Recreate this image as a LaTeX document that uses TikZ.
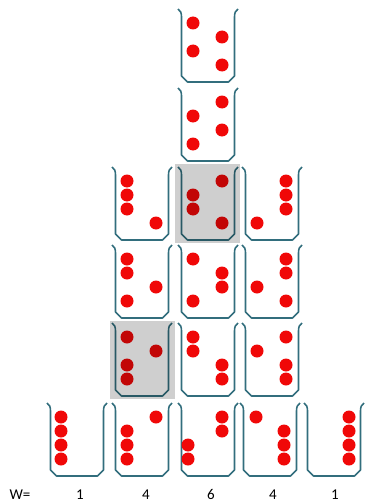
\documentclass[tikz,border=0pt]{standalone}
\usepackage{fontspec}
\setmainfont{Carlito}
\definecolor{bkc}{RGB}{50,110,125}
\definecolor{dotc}{RGB}{240,8,8}
\tikzset{
  bkline/.style={draw=bkc,line width=1.6pt,line join=round},
  dotfill/.style={fill=dotc},
  shade box/.style={fill=black,fill opacity=0.19,draw=none},
  wlabel/.style={anchor=base,font=\fontsize{15}{17}\selectfont,inner sep=0pt}
}
\newcommand\bk[3]{%
 \draw[bkline] (#1,#2) .. controls (#1+2.5,#2+1.5) and (#1+3.5,#2+4) .. (#1+3.5,#2+8) -- (#1+3.5,#2+67) -- (#1+9.5,#2+73) -- (#1+50.5,#2+73) -- (#1+56.5,#2+67) -- (#1+56.5,#2+8) .. controls (#1+56.5,#2+4) and (#1+57.5,#2+1.5) .. (#1+60,#2);
 \foreach \px/\py in {#3} \fill[dotfill] (#1+\px,#2+14*\py) circle (6.5);
}
\begin{document}
\begin{tikzpicture}[x=1pt,y=-1pt]
\useasboundingbox (0,0) rectangle (364,503);
% row 1
\bk{178}{9}{15/1,44/2,15/3,44/4}
% row 2
\bk{178}{88}{44/1,15/2,44/3,15/4}
% row 3
\bk{112}{167}{15/1,15/2,15/3,44/4}
\bk{178}{167}{44/1,15/2,15/3,44/4}
\bk{242}{167}{44/1,44/2,44/3,15/4}
% row 4
\bk{112}{245}{15/1,15/2,44/3,15/4}
\bk{178}{245}{15/1,44/2,44/3,15/4}
\bk{242}{245}{44/1,44/2,15/3,44/4}
% row 5
\bk{112}{323}{15/1,44/2,15/3,15/4}
\bk{178}{323}{15/1,15/2,44/3,44/4}
\bk{242}{323}{44/1,15/2,44/3,44/4}
% row 6
\bk{47}{403}{14/1,14/2,14/3,14/4}
\bk{112}{403}{44/1,15/2,15/3,15/4}
\bk{178}{403}{44/1,44/2,10/3,10/4}
\bk{240}{403}{16/1,44/2,44/3,44/4}
\bk{304}{403}{45/1,45/2,45/3,45/4}
% shaded boxes
\fill[shade box] (175,164) rectangle (240,243);
\fill[shade box] (110,321) rectangle (175,399);
% labels
\node[wlabel] (w) at (20,499) {W=};
\node[wlabel] (w1) at (80,499) {1};
\node[wlabel] (w2) at (146,499) {4};
\node[wlabel] (w3) at (211,499) {6};
\node[wlabel] (w4) at (273,499) {4};
\node[wlabel] (w5) at (335,499) {1};
\end{tikzpicture}
\end{document}
